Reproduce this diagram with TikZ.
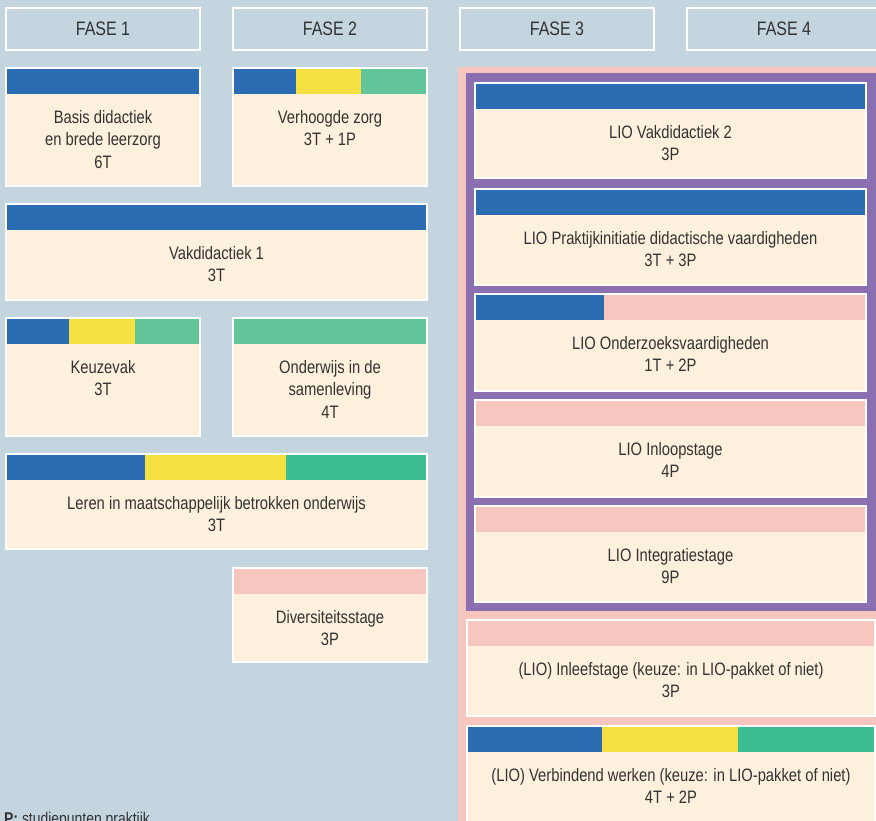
\documentclass[tikz,border=0pt]{standalone}
\usepackage{fontspec}
\setmainfont{Liberation Sans}[FakeStretch=0.82]
\definecolor{bg}{HTML}{C4D5DF}
\definecolor{cream}{HTML}{FDF0DC}
\definecolor{cblue}{HTML}{2B6CB3}
\definecolor{cyellow}{HTML}{F4E041}
\definecolor{cgreenL}{HTML}{63C59A}
\definecolor{cgreenD}{HTML}{3DBD92}
\definecolor{cpink}{HTML}{F7C6BE}
\definecolor{cpurple}{HTML}{8A6FB1}
\definecolor{ctxt}{HTML}{333333}
\tikzset{
  fasebox/.style={draw=white, line width=2pt, minimum width=194pt, minimum height=42pt, inner sep=0pt, text=ctxt, font=\fontsize{19.5}{24}\selectfont},
  ctext/.style={align=center, inner sep=0pt, text=ctxt, font=\fontsize{18}{22.5}\selectfont},
}
\newcommand\course[7]{%
  \fill[white] (#2,#3) rectangle (#4,#5);
  \fill[cream] (#2+2,#3+2) rectangle (#4-2,#5-2);
  \foreach \a/\b/\c in {#6} { \fill[\c] (\a,#3+2) rectangle (\b,#3+27); }
  \node[ctext, anchor=north] (#1) at ({(#2+#4)/2},#3+43) {#7};
}
\begin{document}
\begin{tikzpicture}[x=1pt,y=-1pt]
\useasboundingbox (0,0) rectangle (876,821);
\clip (0,0) rectangle (876,821);
\fill[bg] (0,0) rectangle (876,821);
% phase headers
\node[fasebox] (f1) at (103,29) {FASE 1};
\node[fasebox] (f2) at (330,29) {FASE 2};
\node[fasebox] (f3) at (557,29) {FASE 3};
\node[fasebox] (f4) at (784,29) {FASE 4};
% left column courses
\course{basis}{5}{67}{201}{187}{7/199/cblue}{Basis didactiek\\en brede leerzorg\\6T}
\course{zorg}{232}{67}{428}{187}{234/296/cblue,296/361/cyellow,361/426/cgreenL}{Verhoogde zorg\\3T + 1P}
\course{vak1}{5}{203}{428}{301}{7/426/cblue}{Vakdidactiek 1\\3T}
\course{keuze}{5}{317}{201}{437}{7/69/cblue,69/135/cyellow,135/199/cgreenL}{Keuzevak\\3T}
\course{samen}{232}{317}{428}{437}{234/426/cgreenL}{Onderwijs in de\\samenleving\\4T}
\course{leren}{5}{453}{428}{550}{7/145/cblue,145/286/cyellow,286/426/cgreenD}{Leren in maatschappelijk betrokken onderwijs\\3T}
\course{divers}{232}{567}{428}{663}{234/426/cpink}{Diversiteitsstage\\3P}
% right region
\fill[cpink] (458,67) rectangle (880,830);
\fill[cpurple] (466,73) rectangle (880,611);
\course{lio1}{474}{82}{867}{179}{476/865/cblue}{LIO Vakdidactiek 2\\3P}
\course{lio2}{474}{188}{867}{286}{476/865/cblue}{LIO Praktijkinitiatie didactische vaardigheden\\3T + 3P}
\course{lio3}{474}{293}{867}{392}{476/604/cblue,604/865/cpink}{LIO Onderzoeksvaardigheden\\1T + 2P}
\course{lio4}{474}{399}{867}{498}{476/865/cpink}{LIO Inloopstage\\4P}
\course{lio5}{474}{505}{867}{603}{476/865/cpink}{LIO Integratiestage\\9P}
\course{inleef}{466}{619}{876}{717}{468/874/cpink}{(LIO) Inleefstage (keuze: in LIO-pakket of niet)\\3P}
\course{verb}{466}{725}{876}{830}{468/602/cblue,602/738/cyellow,738/874/cgreenD}{(LIO) Verbindend werken (keuze: in LIO-pakket of niet)\\4T + 2P}
% legend
\node[ctext, anchor=north west, font=\fontsize{17}{20}\selectfont] (legend) at (4,812) {\textbf{P:} studiepunten praktijk};
\end{tikzpicture}
\end{document}
